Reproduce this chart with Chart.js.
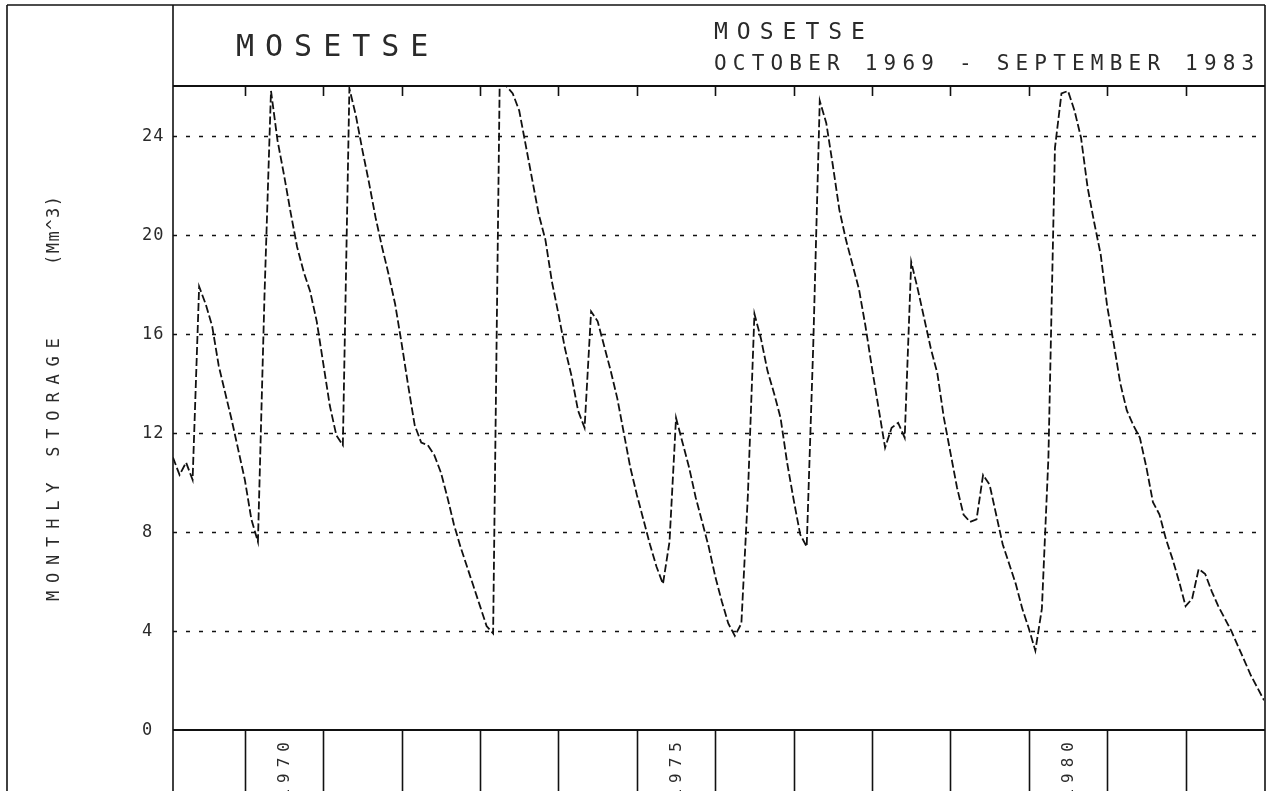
<!DOCTYPE html>
<html>
<head>
<meta charset="utf-8">
<script src="https://cdn.jsdelivr.net/npm/chart.js@4.4.1/dist/chart.umd.min.js"></script>
<style>
  html, body { margin: 0; padding: 0; background: #fff; }
  #wrap { width: 1268px; height: 791px; position: relative; }
</style>
</head>
<body>
<div id="wrap"><canvas id="chartStorage"></canvas></div>
<script>
// Monthly storage, Mm^3, October 1969 .. September 1983 (168 months)
const storage = [
    11.0, 10.3, 10.8, 10.1, 17.9, 17.2, 16.3, 14.7, 13.6, 12.5, 11.3, 10.1,
    8.5, 7.6, 17.5, 25.8, 23.8, 22.4, 20.9, 19.5, 18.5, 17.7, 16.5, 14.8,
    13.1, 11.9, 11.5, 25.9, 24.8, 23.4, 22.1, 20.7, 19.5, 18.4, 17.2, 15.6,
    13.9, 12.3, 11.6, 11.5, 11.1, 10.4, 9.4, 8.3, 7.4, 6.6, 5.8, 5.0,
    4.2, 3.9, 26.0, 26.0, 25.7, 25.0, 23.6, 22.2, 20.8, 19.8, 18.1, 16.8,
    15.4, 14.3, 12.9, 12.2, 16.9, 16.5, 15.5, 14.5, 13.4, 12.0, 10.6, 9.5,
    8.5, 7.5, 6.6, 5.9, 7.6, 12.6, 11.6, 10.6, 9.4, 8.4, 7.4, 6.2,
    5.2, 4.3, 3.8, 4.3, 9.5, 16.8, 15.8, 14.5, 13.6, 12.6, 10.8, 9.3,
    7.9, 7.4, 15.5, 25.4, 24.5, 22.8, 21.0, 19.8, 18.8, 17.8, 16.3, 14.6,
    13.0, 11.4, 12.2, 12.4, 11.8, 18.9, 17.8, 16.6, 15.4, 14.4, 12.6, 11.2,
    9.8, 8.7, 8.4, 8.5, 10.3, 9.9, 8.7, 7.5, 6.7, 5.9, 4.9, 4.1,
    3.2, 4.9, 11.0, 23.5, 25.7, 25.8, 25.0, 23.9, 21.9, 20.5, 19.2, 17.1,
    15.6, 14.0, 12.9, 12.3, 11.8, 10.6, 9.2, 8.7, 7.7, 6.9, 6.0, 5.0,
    5.3, 6.5, 6.3, 5.6, 5.0, 4.5, 4.0, 3.4, 2.8, 2.2, 1.7, 1.2
];

// month index of the yearly ticks (end of each hydrological year)
const yearTicks = [11, 23, 35, 47, 59, 71, 83, 95, 107, 119, 131, 143, 155];
const yearLabels = ['1970', '1975', '1980'];
const yearLabelMonths = [17, 77, 137];
const storageTicks = [0, 4, 8, 12, 16, 20, 24];

const titleMain = 'MOSETSE';
const titleRight = ['MOSETSE', 'OCTOBER 1969 - SEPTEMBER 1983'];
const yTitle = 'MONTHLY STORAGE';
const yUnit = '(Mm^3)';

const FONT = '"DejaVu Sans Mono", "Liberation Mono", monospace';
const INK = '#111';

function text(ctx, str, x, y, size, spacing, align) {
    ctx.save();
    ctx.font = `${size}px ${FONT}`;
    ctx.letterSpacing = spacing + 'px';
    ctx.fillStyle = '#2a2a2a';
    ctx.textAlign = align || 'left';
    ctx.textBaseline = 'middle';
    ctx.fillText(str, x, y);
    ctx.restore();
}

function line(ctx, x1, y1, x2, y2, w, dash) {
    ctx.save();
    ctx.strokeStyle = INK;
    ctx.lineWidth = w || 1.6;
    ctx.setLineDash(dash || []);
    ctx.beginPath();
    ctx.moveTo(x1, y1);
    ctx.lineTo(x2, y2);
    ctx.stroke();
    ctx.restore();
}

const plotterFrame = {
    id: 'plotterFrame',
    beforeDatasetsDraw(chart) {
        const { ctx, chartArea: a, scales } = chart;
        // dotted grid
        storageTicks.forEach(v => {
            if (v === 0) return;
            const y = Math.round(scales.y.getPixelForValue(v)) + 0.5;
            line(ctx, a.left, y, a.right, y, 1.5, [4, 9]);
        });
    },
    afterDraw(chart) {
        const { ctx, chartArea: a, scales } = chart;
        const H = chart.height;
        const L = 7, T = 5, R = 1265;

        // outer frame and title box
        line(ctx, L, T, R, T);
        line(ctx, L, T, L, H);
        line(ctx, R, T, R, H);
        line(ctx, a.left, T, a.left, H);
        line(ctx, a.left, a.top, R, a.top, 2);
        line(ctx, a.left, a.bottom, R, a.bottom, 2);

        // year ticks: short at top, full height below the axis
        yearTicks.forEach(m => {
            const x = Math.round(scales.x.getPixelForValue(m)) + 0.5;
            line(ctx, x, a.top, x, a.top + 10, 1.6);
            line(ctx, x, a.bottom, x, H, 1.6);
        });

        // year labels, rotated, reading upwards
        yearLabels.forEach((lab, i) => {
            const x = scales.x.getPixelForValue(yearLabelMonths[i]);
            ctx.save();
            ctx.translate(x + 1, a.bottom + 6);
            ctx.rotate(-Math.PI / 2);
            text(ctx, lab, 0, 0, 16, 6, 'right');
            ctx.restore();
        });

        // storage tick labels
        storageTicks.forEach(v => {
            const y = scales.y.getPixelForValue(v);
            text(ctx, String(v), 142, y + 1, 17, 1, 'left');
        });

        // axis title
        ctx.save();
        ctx.translate(55, 601);
        ctx.rotate(-Math.PI / 2);
        text(ctx, yTitle, 0, 0, 17, 7.8, 'left');
        text(ctx, yUnit, 336, 0, 17, 1.5, 'left');
        ctx.restore();

        // titles
        text(ctx, titleMain, 236, 48, 30, 11, 'left');
        text(ctx, titleRight[0], 714, 33, 23, 9, 'left');
        text(ctx, titleRight[1], 714, 65, 21, 6.2, 'left');
    }
};

new Chart(document.getElementById('chartStorage').getContext('2d'), {
    type: 'line',
    data: {
        datasets: [{
            label: 'Mosetse',
            data: storage.map((v, i) => ({ x: i, y: v })),
            borderColor: INK,
            borderWidth: 1.8,
            borderDash: [8, 3],
            pointRadius: 0,
            tension: 0,
            fill: false
        }]
    },
    options: {
        responsive: true,
        maintainAspectRatio: false,
        animation: false,
        layout: { padding: { left: 173, right: 4, top: 86, bottom: 61 } },
        plugins: { legend: { display: false }, tooltip: { enabled: false } },
        scales: {
            x: { type: 'linear', min: 0, max: 167, display: false },
            y: { type: 'linear', min: 0, max: 26, display: false }
        }
    },
    plugins: [plotterFrame]
});
</script>
</body>
</html>
